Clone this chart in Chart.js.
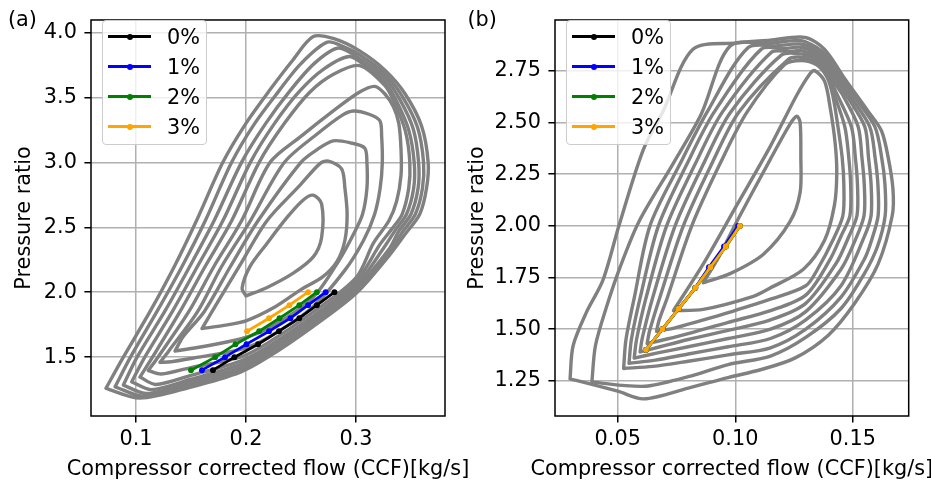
<!DOCTYPE html>
<html>
<head>
<meta charset="utf-8">
<script src="https://cdn.jsdelivr.net/npm/chart.js@4.4.1/dist/chart.umd.min.js"></script>
<style>
  html, body { margin:0; padding:0; background:#ffffff; }
  body { position:relative; width:931px; height:483px; overflow:hidden; font-family:'DejaVu Sans', sans-serif; }
  canvas { position:absolute; top:0; }
  #chartA { left:0; }
  #chartB { left:460px; }
  .plabel { position:absolute; font-size:20.8px; line-height:20.8px; color:#000; white-space:nowrap; }
  .xtitle { position:absolute; width:600px; text-align:center; font-size:20.8px; line-height:20.8px; color:#000; white-space:nowrap; }
  .legend { position:absolute; box-sizing:border-box; background:rgba(255,255,255,0.8); border:1.3px solid #cccccc; border-radius:4px; }
  .lg-line { position:absolute; height:3px; }
  .lg-dot { position:absolute; width:6px; height:6px; border-radius:50%; }
  .lg-text { position:absolute; font-size:20.8px; line-height:20.8px; color:#000; white-space:nowrap; }
</style>
</head>
<body>
<canvas id="chartA" width="465" height="483"></canvas>
<canvas id="chartB" width="471" height="483"></canvas>
<div class="plabel" style="left:8px; top:9.2px;">(a)</div>
<div class="plabel" style="left:467.5px; top:9.2px;">(b)</div>
<script>
// ---------------- series ----------------
const seriesNames  = ['0%', '1%', '2%', '3%'];
const seriesColors = ['#000000', '#0000ff', '#008000', '#ffa500'];
const xTitle = 'Compressor corrected flow (CCF)[kg/s]';
const yTitle = 'Pressure ratio';

// panel (a)
const prA   = [1.4, 1.5, 1.6, 1.7, 1.8, 1.9, 2.0];
const ccfA0 = [0.17, 0.1895, 0.211, 0.23, 0.2485, 0.2645, 0.2805];
const ccfA1 = [0.16, 0.181, 0.2005, 0.221, 0.2405, 0.2565, 0.2725];
const ccfA2 = [0.15, 0.172, 0.1905, 0.212, 0.2305, 0.2485, 0.2645];
const prA3  = [1.7, 1.8, 1.9, 2.0];
const ccfA3 = [0.201, 0.221, 0.2395, 0.2565];

// panel (b)
const prB   = [1.4, 1.5, 1.6, 1.7, 1.8, 1.9, 2.0];
const ccfB0 = [0.062, 0.069, 0.076, 0.083, 0.0895, 0.096, 0.102];
const ccfB1 = [0.062, 0.069, 0.076, 0.083, 0.0888, 0.0952, 0.1012];
const ccfB2 = [0.062, 0.069, 0.076, 0.083, 0.0895, 0.096, 0.102];
const ccfB3 = [0.062, 0.069, 0.076, 0.083, 0.0895, 0.096, 0.102];

// ---------------- ticks ----------------
const xTicksA = [0.1, 0.2, 0.3];
const xTickLabelsA = ['0.1', '0.2', '0.3'];
const yTicksA = [1.5, 2.0, 2.5, 3.0, 3.5, 4.0];
const yTickLabelsA = ['1.5', '2.0', '2.5', '3.0', '3.5', '4.0'];
const xTicksB = [0.05, 0.10, 0.15];
const xTickLabelsB = ['0.05', '0.10', '0.15'];
const yTicksB = [1.25, 1.50, 1.75, 2.00, 2.25, 2.50, 2.75];
const yTickLabelsB = ['1.25', '1.50', '1.75', '2.00', '2.25', '2.50', '2.75'];

// ---------------- efficiency contours, panel (a) ----------------
const contA1 = [[0.2,1.972],[0.1965,2.03],[0.2036,2.197],[0.2188,2.372],[0.237,2.572],[0.2521,2.71],[0.2612,2.747],[0.2688,2.68],[0.2688,2.422],[0.2612,2.272],[0.243,2.147],[0.2188,2.035],[0.2,1.972]];
const contA2 = [[0.16,1.72],[0.174,1.92],[0.194,2.2],[0.2188,2.547],[0.249,2.822],[0.2673,2.99],[0.275,3.01],[0.287,2.95],[0.29,2.8],[0.292,2.6],[0.29,2.4],[0.283,2.24],[0.27,2.12],[0.25,2.02],[0.225,1.88],[0.2,1.78],[0.18,1.745],[0.16,1.72]];
const contA3 = [[0.1355,1.547],[0.143,1.66],[0.162,1.85],[0.186,2.2],[0.211,2.55],[0.25,3.0],[0.265,3.1],[0.2794,3.165],[0.295,3.15],[0.308,3.11],[0.31,3.0],[0.31,2.8],[0.306,2.6],[0.298,2.45],[0.285,2.25],[0.26,1.95],[0.22,1.72],[0.195,1.64],[0.16,1.58],[0.1355,1.547]];
const contA4 = [[0.1218,1.46],[0.13,1.55],[0.156,1.85],[0.178,2.2],[0.204,2.55],[0.235,3.0],[0.265,3.22],[0.287,3.36],[0.2976,3.395],[0.312,3.37],[0.3218,3.32],[0.3234,3.2],[0.324,3.0],[0.322,2.8],[0.317,2.6],[0.307,2.4],[0.29,2.17],[0.26,1.88],[0.22,1.65],[0.195,1.56],[0.15,1.49],[0.132,1.465],[0.1218,1.46]];
const contA5 = [[0.1112,1.397],[0.12,1.5],[0.148,1.85],[0.171,2.2],[0.196,2.55],[0.222,3.0],[0.25,3.2],[0.28,3.4],[0.303,3.54],[0.317,3.585],[0.326,3.53],[0.334,3.43],[0.339,3.3],[0.341,3.1],[0.341,2.9],[0.337,2.7],[0.33,2.55],[0.316,2.38],[0.30,2.11],[0.26,1.84],[0.22,1.61],[0.195,1.50],[0.15,1.42],[0.123,1.37],[0.1112,1.397]];
const contA6 = [[0.1036,1.347],[0.115,1.5],[0.14,1.85],[0.163,2.2],[0.187,2.55],[0.212,3.0],[0.235,3.3],[0.258,3.54],[0.28,3.68],[0.3035,3.745],[0.3264,3.59],[0.335,3.46],[0.345,3.24],[0.349,3.0],[0.348,2.8],[0.342,2.6],[0.332,2.48],[0.322,2.37],[0.30,2.08],[0.26,1.81],[0.22,1.58],[0.195,1.47],[0.15,1.36],[0.118,1.29],[0.1036,1.347]];
const contA7 = [[0.0961,1.31],[0.108,1.5],[0.133,1.85],[0.156,2.2],[0.179,2.55],[0.204,3.0],[0.226,3.3],[0.249,3.55],[0.271,3.72],[0.294,3.815],[0.309,3.74],[0.3264,3.62],[0.337,3.47],[0.348,3.25],[0.353,3.0],[0.3525,2.8],[0.346,2.6],[0.336,2.48],[0.326,2.35],[0.30,2.05],[0.26,1.79],[0.22,1.56],[0.195,1.445],[0.15,1.33],[0.114,1.25],[0.0961,1.31]];
const contA8 = [[0.0885,1.285],[0.101,1.5],[0.126,1.85],[0.149,2.2],[0.171,2.55],[0.196,3.0],[0.218,3.3],[0.24,3.55],[0.262,3.76],[0.284,3.88],[0.303,3.8],[0.3264,3.65],[0.3395,3.49],[0.352,3.26],[0.357,3.0],[0.3565,2.8],[0.350,2.6],[0.339,2.47],[0.33,2.33],[0.30,2.03],[0.26,1.77],[0.22,1.54],[0.195,1.42],[0.15,1.31],[0.11,1.22],[0.0885,1.285]];
const contA9 = [[0.081,1.272],[0.095,1.5],[0.119,1.85],[0.142,2.2],[0.163,2.55],[0.187,3.0],[0.208,3.3],[0.23,3.55],[0.25,3.76],[0.274,3.925],[0.29,3.885],[0.303,3.83],[0.3264,3.68],[0.342,3.51],[0.356,3.27],[0.3615,3.0],[0.3605,2.8],[0.354,2.6],[0.342,2.46],[0.33,2.30],[0.30,2.01],[0.26,1.75],[0.22,1.52],[0.195,1.40],[0.15,1.29],[0.107,1.20],[0.081,1.272]];
const contA10 = [[0.0727,1.26],[0.0885,1.5],[0.1127,1.85],[0.135,2.2],[0.155,2.55],[0.179,3.0],[0.2,3.3],[0.222,3.56],[0.242,3.78],[0.2612,3.968],[0.28,3.952],[0.303,3.86],[0.3264,3.71],[0.3445,3.53],[0.3597,3.28],[0.3657,3.0],[0.3642,2.8],[0.358,2.6],[0.345,2.45],[0.33,2.28],[0.30,1.99],[0.26,1.73],[0.22,1.50],[0.195,1.385],[0.15,1.27],[0.1036,1.185],[0.0727,1.26]];

// ---------------- efficiency contours, panel (b) ----------------
const contB1 = [[0.0864,1.725],[0.093,1.85],[0.1006,2.02],[0.1148,2.319],[0.1233,2.492],[0.1262,2.53],[0.1276,2.5],[0.1279,2.335],[0.1276,2.162],[0.1233,2.02],[0.112,1.863],[0.0978,1.769],[0.0864,1.725]];
const contB2 = [[0.0737,1.59],[0.0864,1.816],[0.1006,2.099],[0.1148,2.382],[0.1262,2.633],[0.1318,2.736],[0.1338,2.751],[0.138,2.7],[0.1404,2.571],[0.1425,2.4],[0.1432,2.256],[0.1422,2.1],[0.138,1.93],[0.129,1.79],[0.115,1.70],[0.1077,1.659],[0.0864,1.596],[0.0737,1.59]];
const contB3 = [[0.0665,1.49],[0.0675,1.54],[0.071,1.65],[0.0815,2.0],[0.0935,2.3],[0.105,2.55],[0.121,2.78],[0.128,2.80],[0.1345,2.78],[0.139,2.72],[0.1415,2.63],[0.1437,2.48],[0.1455,2.33],[0.1462,2.2],[0.1458,2.05],[0.1415,1.93],[0.135,1.79],[0.13,1.71],[0.115,1.645],[0.097,1.58],[0.085,1.54],[0.074,1.505],[0.0665,1.49]];
const contB4 = [[0.0625,1.43],[0.0635,1.49],[0.0678,1.65],[0.0779,2.0],[0.09,2.3],[0.1015,2.55],[0.1225,2.805],[0.128,2.816],[0.1345,2.794],[0.139,2.737],[0.1415,2.655],[0.1466,2.48],[0.1483,2.33],[0.1491,2.2],[0.1488,2.05],[0.145,1.95],[0.14,1.83],[0.13,1.665],[0.115,1.59],[0.097,1.533],[0.082,1.485],[0.07,1.45],[0.0625,1.43]];
const contB5 = [[0.0595,1.39],[0.0605,1.46],[0.0648,1.65],[0.0744,2.0],[0.0865,2.3],[0.098,2.55],[0.1196,2.826],[0.128,2.832],[0.1345,2.808],[0.139,2.754],[0.1415,2.68],[0.1494,2.48],[0.1511,2.33],[0.152,2.2],[0.1518,2.05],[0.148,1.94],[0.143,1.82],[0.13,1.625],[0.115,1.545],[0.097,1.494],[0.08,1.45],[0.068,1.415],[0.0595,1.39]];
const contB6 = [[0.057,1.36],[0.058,1.45],[0.062,1.65],[0.0708,2.0],[0.083,2.3],[0.0945,2.55],[0.1154,2.84],[0.123,2.843],[0.128,2.848],[0.1345,2.822],[0.139,2.771],[0.1415,2.705],[0.1459,2.63],[0.1523,2.48],[0.1539,2.33],[0.1549,2.2],[0.1548,2.05],[0.151,1.93],[0.145,1.79],[0.13,1.585],[0.115,1.50],[0.097,1.455],[0.08,1.415],[0.067,1.385],[0.057,1.36]];
const contB7 = [[0.0548,1.335],[0.0558,1.45],[0.0595,1.65],[0.0673,2.0],[0.0795,2.3],[0.091,2.55],[0.1111,2.855],[0.121,2.858],[0.128,2.864],[0.1345,2.836],[0.139,2.788],[0.1415,2.73],[0.1474,2.63],[0.1551,2.48],[0.1567,2.33],[0.1578,2.2],[0.1578,2.05],[0.155,1.95],[0.145,1.71],[0.13,1.545],[0.115,1.455],[0.097,1.415],[0.08,1.38],[0.066,1.35],[0.0548,1.335]];
const contB8 = [[0.0525,1.31],[0.0535,1.45],[0.057,1.65],[0.0637,2.0],[0.0765,2.3],[0.088,2.55],[0.1054,2.862],[0.118,2.871],[0.128,2.88],[0.1345,2.85],[0.139,2.805],[0.1415,2.755],[0.1488,2.63],[0.1572,2.48],[0.1595,2.33],[0.1607,2.2],[0.1608,2.05],[0.158,1.93],[0.155,1.84],[0.145,1.655],[0.13,1.50],[0.115,1.41],[0.097,1.376],[0.08,1.345],[0.065,1.32],[0.0525,1.31]];
const contB9 = [[0.039,1.245],[0.0405,1.42],[0.045,1.6],[0.051,1.8],[0.059,2.02],[0.0735,2.3],[0.0855,2.54],[0.0977,2.869],[0.1148,2.884],[0.128,2.896],[0.1345,2.864],[0.139,2.822],[0.1415,2.775],[0.1503,2.63],[0.1594,2.48],[0.1623,2.33],[0.1637,2.2],[0.1638,2.05],[0.1605,1.9],[0.155,1.77],[0.145,1.60],[0.13,1.46],[0.115,1.37],[0.097,1.329],[0.08,1.27],[0.063,1.225],[0.052,1.228],[0.039,1.245]];
const contB10 = [[0.0297,1.26],[0.031,1.42],[0.0366,1.58],[0.0437,1.737],[0.0505,2.0],[0.0608,2.366],[0.0693,2.555],[0.082,2.854],[0.1006,2.885],[0.1148,2.898],[0.1296,2.912],[0.138,2.854],[0.1466,2.712],[0.1565,2.555],[0.1622,2.46],[0.165,2.335],[0.1671,2.178],[0.1668,2.05],[0.1608,1.816],[0.1509,1.627],[0.1395,1.47],[0.1253,1.36],[0.1111,1.305],[0.0969,1.266],[0.08,1.215],[0.061,1.163],[0.05,1.2],[0.0297,1.26]];

// ---------------- building ----------------
const FONT = "'DejaVu Sans', sans-serif";
const FS = 20.8;

const framePlugin = {
  id: 'frame',
  afterDatasetsDraw(chart) {
    const a = chart.chartArea, ctx = chart.ctx;
    ctx.save();
    ctx.strokeStyle = '#000';
    ctx.lineWidth = 1.5;
    ctx.strokeRect(a.left, a.top, a.right - a.left, a.bottom - a.top);
    ctx.restore();
  }
};

function buildChart(id, p) {
  const datasets = [];
  p.series.forEach((s, i) => {
    datasets.push({
      label: seriesNames[i],
      data: s.x.map((x, j) => ({ x: x, y: s.y[j] })),
      showLine: true, tension: 0,
      borderColor: seriesColors[i], backgroundColor: seriesColors[i],
      borderWidth: 2.8, pointRadius: 2.9, pointBorderWidth: 0, pointHoverRadius: 0,
      order: 4 - i
    });
  });
  p.contours.forEach((c) => {
    datasets.push({
      data: c.map(q => ({ x: q[0], y: q[1] })),
      showLine: true, tension: 0.3,
      borderColor: '#808080', borderWidth: 3.4,
      borderJoinStyle: 'round', borderCapStyle: 'round',
      pointRadius: 0, pointHoverRadius: 0,
      order: 10
    });
  });
  const tickFont = { family: FONT, size: FS };
  const chart = new Chart(document.getElementById(id), {
    type: 'scatter',
    data: { datasets },
    options: {
      responsive: false, animation: false, devicePixelRatio: 1,
      layout: { padding: { left: 0, right: p.padRight, top: 10, bottom: 0 } },
      plugins: { legend: { display: false }, tooltip: { enabled: false } },
      events: [],
      scales: {
        x: {
          type: 'linear', bounds: 'data', min: p.xMin, max: p.xMax,
          afterBuildTicks: (s) => { s.ticks = p.xTicks.map(v => ({ value: v })); },
          afterFit: (s) => { s.height = 67; },
          ticks: { callback: (v, i) => p.xLabels[i], font: tickFont, color: '#000', padding: 5, maxRotation: 0, autoSkip: false },
          grid: { color: '#b0b0b0', lineWidth: 1.5, tickColor: '#000', tickLength: 6.6, tickWidth: 1.5 },
          border: { display: false },
          title: { display: false }
        },
        y: {
          type: 'linear', bounds: 'data', min: p.yMin, max: p.yMax,
          afterBuildTicks: (s) => { s.ticks = p.yTicks.map(v => ({ value: v })); },
          afterFit: (s) => { s.width = p.yWidth; },
          ticks: { callback: (v, i) => p.yLabels[i], font: tickFont, color: '#000', padding: 7.5, autoSkip: false },
          grid: { color: '#b0b0b0', lineWidth: 1.5, tickColor: '#000', tickLength: 6.6, tickWidth: 1.5 },
          border: { display: false },
          title: { display: true, text: yTitle, font: tickFont, color: '#000', padding: { top: p.yTitlePad, bottom: 0 } }
        }
      }
    },
    plugins: [framePlugin]
  });
  // x-axis title as page text, centred under the plot area (may extend beyond it, as in the original)
  const a = chart.chartArea;
  const t = document.createElement('div');
  t.className = 'xtitle';
  t.textContent = xTitle;
  t.style.left = (p.canvasLeft + (a.left + a.right) / 2 - 300) + 'px';
  t.style.top = '457.6px';
  document.body.appendChild(t);
  return chart;
}

buildChart('chartA', {
  series: [ { x: ccfA0, y: prA }, { x: ccfA1, y: prA }, { x: ccfA2, y: prA }, { x: ccfA3, y: prA3 } ],
  contours: [contA1, contA2, contA3, contA4, contA5, contA6, contA7, contA8, contA9, contA10],
  xMin: 0.0591, xMax: 0.381, yMin: 1.047, yMax: 4.096,
  xTicks: xTicksA, xLabels: xTickLabelsA, yTicks: yTicksA, yLabels: yTickLabelsA,
  yWidth: 91, padRight: 20, yTitlePad: 12.5, canvasLeft: 0
});

buildChart('chartB', {
  series: [ { x: ccfB0, y: prB }, { x: ccfB1, y: prB }, { x: ccfB2, y: prB }, { x: ccfB3, y: prB } ],
  contours: [contB1, contB2, contB3, contB4, contB5, contB6, contB7, contB8, contB9, contB10],
  xMin: 0.0233, xMax: 0.1738, yMin: 1.080, yMax: 2.996,
  xTicks: xTicksB, xLabels: xTickLabelsB, yTicks: yTicksB, yLabels: yTickLabelsB,
  yWidth: 95, padRight: 22.3, yTitlePad: 5.5, canvasLeft: 460
});

// ---------------- legends (HTML, inside the axes) ----------------
function addLegend(left, top) {
  const b = 1.3;
  const box = document.createElement('div');
  box.className = 'legend';
  Object.assign(box.style, { left: left + 'px', top: top + 'px', width: '105px', height: '125px' });
  seriesNames.forEach((name, i) => {
    const cy = Math.round(16 + i * 30.2 - b) + 0.5;
    const line = document.createElement('div');
    line.className = 'lg-line';
    Object.assign(line.style, { left: Math.round(6.6 - b) + 'px', top: (cy - 1.5) + 'px', width: '43px', background: seriesColors[i] });
    const dot = document.createElement('div');
    dot.className = 'lg-dot';
    Object.assign(dot.style, { left: Math.round(28.3 - b - 3) + 'px', top: (cy - 3) + 'px', background: seriesColors[i] });
    const txt = document.createElement('div');
    txt.className = 'lg-text';
    txt.textContent = name;
    Object.assign(txt.style, { left: (65.6 - b) + 'px', top: (cy - 10.0) + 'px' });
    box.appendChild(line); box.appendChild(dot); box.appendChild(txt);
  });
  document.body.appendChild(box);
}
addLegend(101.7, 20);
addLegend(565.7, 20);
</script>
</body>
</html>
